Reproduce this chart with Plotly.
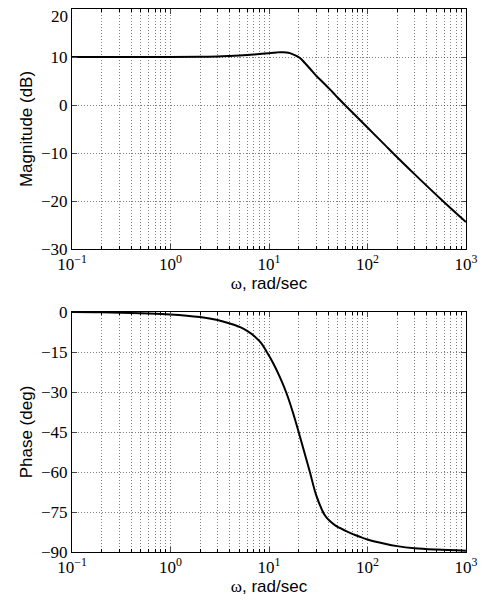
import plotly.graph_objects as go

# frequency points (rad/sec) and values
w_mag = [0.1, 0.3, 1, 2, 3, 4, 5, 6, 7, 8, 10, 12, 13, 14, 15, 16.3, 18, 20.6, 23, 26, 30.5, 35, 40, 44.6, 50, 59, 70, 100, 150, 181, 300, 582, 1000]
mag_db = [10.0, 10.0, 10.0, 10.05, 10.1, 10.2, 10.3, 10.4, 10.5, 10.6, 10.8, 10.95, 11.0, 11.0, 10.95, 10.8, 10.45, 9.8, 8.8, 7.6, 6.0, 4.8, 3.6, 2.6, 1.5, 0.0, -1.5, -4.7, -8.3, -10.0, -14.4, -20.0, -24.4]

w_ph = [0.1, 0.2, 0.5, 1, 2, 3, 4, 5.1, 6, 7.2, 8.3, 9.5, 11, 12.9, 14.9, 17.3, 20, 23, 26, 30, 34.5, 37, 41.5, 47, 52.6, 60, 70, 83.6, 100, 150, 200, 300, 500, 1000]
phase_deg = [0.0, -0.1, -0.5, -0.9, -1.9, -3.0, -4.3, -5.7, -7.1, -9.25, -11.6, -15.0, -19.1, -24.4, -30.0, -37.1, -45.0, -53.0, -60.0, -68.5, -74.2, -76.3, -78.4, -80.0, -81.0, -82.1, -83.2, -84.3, -85.3, -86.9, -87.8, -88.6, -89.1, -89.5]

decade_vals = [0.1, 1, 10, 100, 1000]
decade_text = ["10<sup>−1</sup>", "10<sup>0</sup>", "10<sup>1</sup>", "10<sup>2</sup>", "10<sup>3</sup>"]
minor_vals = [m * d for d in [0.1, 1, 10, 100] for m in range(2, 10)]

mag_ticks = [-30, -20, -10, 0, 10, 20]
phase_ticks = [-90, -75, -60, -45, -30, -15, 0]

W, H = 483, 594   # page puts the plot 8px in from the window corner
OFF = 8


def dom_x(a, b):
    return [(a - OFF) / W, (b - OFF) / W]


def dom_y(top, bottom):
    return [1 - (bottom - OFF) / H, 1 - (top - OFF) / H]


serif = "Liberation Serif"
sans = "Liberation Sans"
grid_col = "rgba(0,0,0,0.5)"
dots = "1px,2px"

fig = go.Figure()
fig.add_trace(go.Scatter(x=w_mag, y=mag_db, mode="lines", line=dict(color="black", width=2, shape="spline", smoothing=1),
                         xaxis="x", yaxis="y", showlegend=False))
fig.add_trace(go.Scatter(x=w_ph, y=phase_deg, mode="lines", line=dict(color="black", width=2, shape="spline", smoothing=1),
                         xaxis="x2", yaxis="y2", showlegend=False))


def xax(anchor):
    return dict(
        type="log", range=[-1, 3], domain=dom_x(72, 466), anchor=anchor, automargin=False,
        tickvals=decade_vals, ticktext=decade_text, ticks="inside", ticklen=5,
        tickfont=dict(family=serif, size=17, color="black"),
        showline=True, linecolor="black", linewidth=1, mirror="allticks",
        showgrid=True, gridcolor=grid_col, griddash=dots, gridwidth=1,
        minor=dict(tickvals=minor_vals, ticks="inside", ticklen=3, tickcolor="black",
                   showgrid=True, gridcolor=grid_col, griddash=dots, gridwidth=1),
        title=dict(text="<span style='font-family:Liberation Serif'>ω</span>, rad/sec",
                   font=dict(family=sans, size=17, color="black"), standoff=0),
        zeroline=False,
    )


def yax(domain, rng, ticks, labels, title, anchor):
    return dict(
        range=rng, domain=domain, anchor=anchor, automargin=False,
        tickvals=ticks, ticktext=labels,
        ticks="inside", ticklen=5,
        tickfont=dict(family=serif, size=17, color="black"),
        showline=True, linecolor="black", linewidth=1, mirror="allticks",
        showgrid=True, gridcolor=grid_col, griddash=dots, gridwidth=1,
        title=dict(text=title, font=dict(family=sans, size=17, color="black"), standoff=4),
        zeroline=False,
    )


# top label of the magnitude axis would fall off the page edge, so it is drawn as an annotation nudged down
mag_labels = [str(t).replace("-", "−") if t != 20 else "" for t in mag_ticks]
phase_labels = [str(t).replace("-", "−") for t in phase_ticks]

fig.update_layout(
    width=W, height=H,
    margin=dict(l=0, r=0, t=0, b=0),
    paper_bgcolor="white", plot_bgcolor="white",
    xaxis=xax("y"),
    yaxis=yax(dom_y(9, 249), [-30, 20], mag_ticks, mag_labels, "Magnitude (dB)", "x"),
    xaxis2=xax("y2"),
    yaxis2=yax(dom_y(312, 552), [-90, 0], phase_ticks, phase_labels, "Phase (deg)", "x2"),
    annotations=[dict(text="20", xref="paper", yref="y", x=dom_x(72, 466)[0], y=20,
                      xanchor="right", yanchor="top", xshift=-2, yshift=4, showarrow=False,
                      font=dict(family=serif, size=17, color="black"))],
)

fig.write_html("out.html")
